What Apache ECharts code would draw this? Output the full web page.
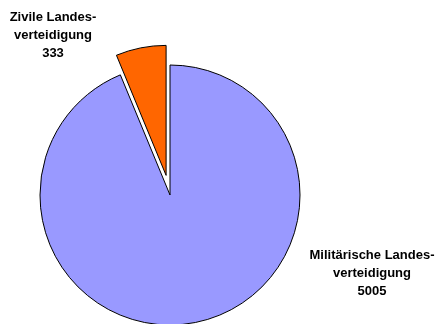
<!DOCTYPE html>
<html>
<head>
<meta charset="utf-8">
<script src="https://cdn.jsdelivr.net/npm/echarts@6/dist/echarts.min.js"></script>
<style>
  html, body { margin: 0; padding: 0; background: #fff; }
  #chart { width: 440px; height: 324px; }
</style>
</head>
<body>
<div id="chart"></div>
<script>
// Ausgaben der Landesverteidigung
const categories = ['Militärische Landes-\nverteidigung', 'Zivile Landes-\nverteidigung'];
const values = [5005, 333];
const colors = ['#9999FF', '#FF6600'];
const explodedSlice = 1;

// centre of each label block
const labelAnchors = [[372, 273], [53, 35]];

const chart = echarts.init(document.getElementById('chart'), null, { renderer: 'canvas' });

const labelFont = {
  fontFamily: 'Liberation Sans, Arial, sans-serif',
  fontWeight: 'bold',
  fontSize: 13,
  lineHeight: 18,
  fill: '#000',
  textAlign: 'center',
  textVerticalAlign: 'middle'
};

chart.setOption({
  animation: false,
  graphic: categories.map((c, i) => ({
    type: 'text',
    x: labelAnchors[i][0],
    y: labelAnchors[i][1],
    style: Object.assign({ text: c + '\n' + values[i] }, labelFont)
  })),
  series: [{
    type: 'pie',
    center: [170, 195],
    radius: 130,
    startAngle: 90,
    clockwise: true,
    selectedMode: 'single',
    selectedOffset: 20,
    emphasis: { disabled: true },
    itemStyle: { borderColor: '#000', borderWidth: 1 },
    label: { show: false },
    labelLine: { show: false },
    data: categories.map((c, i) => ({
      name: c,
      value: values[i],
      selected: i === explodedSlice,
      itemStyle: { color: colors[i] }
    }))
  }]
});
</script>
</body>
</html>
